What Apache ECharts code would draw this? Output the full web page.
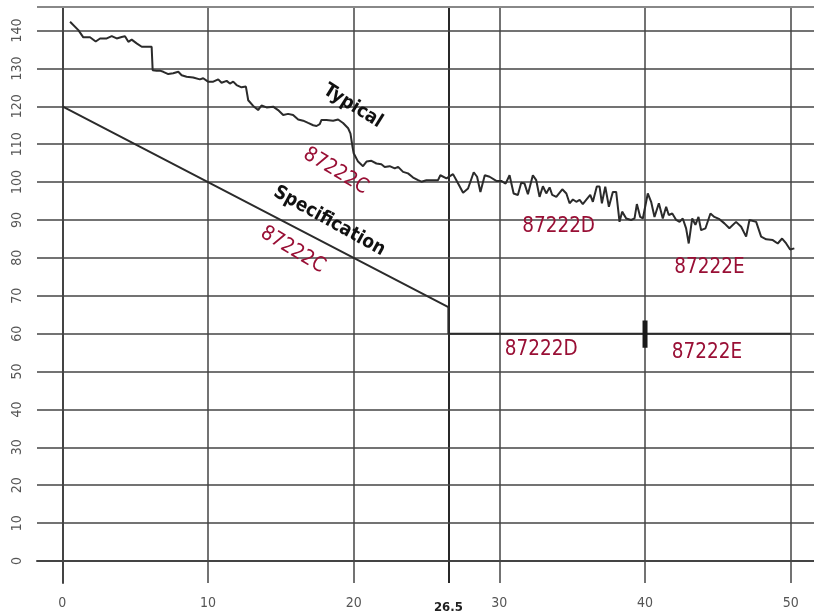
<!DOCTYPE html>
<html>
<head>
<meta charset="utf-8">
<script src="https://cdn.jsdelivr.net/npm/echarts@6/dist/echarts.min.js"></script>
<style>
html,body{margin:0;padding:0;background:#fff;}
#c{width:814px;height:614px;}
</style>
</head>
<body>
<div id="c"></div>
<script>
// Typical curve (x, value)
var typicalX = [0.53,1.1,1.44,1.9,2.29,2.59,3.05,3.39,3.73,4.07,4.3,4.53,4.76,5.1,5.45,6.13,6.2,6.47,6.7,6.93,7.27,7.61,7.96,8.19,8.53,8.98,9.44,9.67,10.0,10.36,10.7,10.93,11.28,11.5,11.73,11.96,12.3,12.6,12.76,13.1,13.44,13.67,14.02,14.47,14.81,15.16,15.5,15.84,16.19,16.53,16.87,17.22,17.45,17.67,17.79,18.13,18.59,18.93,19.27,19.62,19.78,19.92,20.0,20.3,20.64,20.88,21.22,21.56,21.9,22.13,22.47,22.82,23.05,23.39,23.73,24.08,24.42,24.65,24.99,25.45,25.79,25.95,26.37,26.82,27.05,27.51,27.85,28.24,28.47,28.7,29.0,29.33,29.79,30.13,30.43,30.7,30.98,31.27,31.5,31.73,31.96,32.3,32.53,32.76,32.99,33.22,33.45,33.63,33.91,34.32,34.6,34.82,35.05,35.28,35.51,35.73,35.96,36.24,36.42,36.69,36.88,37.04,37.27,37.52,37.79,38.02,38.25,38.43,38.71,39.05,39.28,39.44,39.67,39.85,40.19,40.42,40.65,40.95,41.22,41.45,41.63,41.87,42.14,42.37,42.59,42.82,43.0,43.24,43.46,43.67,43.85,44.15,44.49,44.76,45.11,45.45,45.79,46.25,46.6,46.94,47.17,47.63,47.97,48.32,48.77,49.11,49.41,49.69,49.96,50.25];
var typicalY = [142.3,140.1,138.2,138.2,137.1,137.9,137.9,138.5,137.9,138.3,138.5,137.0,137.6,136.6,135.7,135.7,129.5,129.4,129.4,129.1,128.5,128.7,129.1,128.2,127.8,127.6,127.1,127.4,126.5,126.5,127.1,126.2,126.7,126.0,126.5,125.6,125.0,125.2,121.6,120.1,119.0,120.2,119.7,119.9,119.0,117.7,118.0,117.7,116.5,116.2,115.6,115.0,114.8,115.3,116.4,116.4,116.2,116.5,115.6,114.2,112.8,109.3,107.6,105.4,104.2,105.4,105.6,104.9,104.7,104.0,104.2,103.6,104.0,102.7,102.3,101.2,100.5,100.1,100.5,100.5,100.5,101.8,101.0,102.1,100.5,97.2,98.3,102.6,101.4,97.4,101.8,101.4,100.3,100.3,99.6,101.8,97.0,96.6,99.8,99.6,96.8,101.8,100.5,96.1,98.9,97.0,98.6,96.6,96.1,98.1,97.0,94.4,95.4,94.8,95.3,94.2,95.3,96.6,94.8,98.8,98.8,94.4,98.8,93.5,97.4,97.4,89.5,92.2,90.4,90.0,90.4,94.2,90.8,90.4,97.0,94.8,90.8,94.4,90.4,93.5,91.3,91.7,90.0,89.5,90.4,87.8,83.8,90.4,88.7,90.8,87.3,87.8,91.7,90.8,90.2,89.1,87.8,89.5,88.2,85.6,90.0,89.5,85.6,84.9,84.7,83.8,85.1,83.8,82.2,82.5];

// Specification limit
var specX = [0, 26.5, 26.5, 50];
var specY = [120, 67, 60, 60];

// Divider mark at x = 40
var markX = [40, 40];
var markY = [56.3, 63.5];

// Grid lines / tick values
var xGridValues = [0, 10, 20, 26.5, 30, 40, 50];
var xTickLabels = [0, 10, 20, 26.5, 30, 40, 50];
var yTickLabels = [0, 10, 20, 30, 40, 50, 60, 70, 80, 90, 100, 110, 120, 130, 140];

// Annotations
var annoText = ['Typical', 'Specification', '87222C', '87222C', '87222D', '87222E', '87222D', '87222E'];
var annoX = [19.94, 18.33, 18.77, 15.82, 34.07, 44.42, 32.87, 44.25];
var annoY = [120.05, 89.7, 102.9, 82.1, 88.3, 77.3, 55.9, 55.0];
var annoKind = ['bold', 'bold', 'red', 'red', 'red', 'red', 'red', 'red'];
var annoRot = [-32, -29, -31, -31, 0, 0, 0, 0];

var X_MIN = -1.74, X_MAX = 51.6, Y_MIN = -5.8, Y_MAX = 146.2;
var FONT = '"DejaVu Sans", "Noto Sans", sans-serif';
var STRETCH = 'condensed';

function zip(xs, ys) { return xs.map(function (x, i) { return [x, ys[i]]; }); }

var gridStyle = { color: '#444', width: 1.5, type: 'solid' };
var vLines = xGridValues.map(function (v) {
  return { xAxis: v, lineStyle: v === 26.5 ? { color: '#111', width: 1.8, type: 'solid' } : gridStyle };
});
var hLines = yTickLabels.map(function (v) { return { yAxis: v, lineStyle: gridStyle }; });
hLines.push({ yAxis: Y_MAX, lineStyle: { color: '#888', width: 2, type: 'solid' } });

var annoData = annoText.map(function (t, i) {
  var red = annoKind[i] === 'red';
  return {
    value: [annoX[i], annoY[i]],
    label: {
      show: true, position: 'inside', formatter: t, rotate: annoRot[i],
      color: red ? '#990f35' : '#111',
      opacity: 1,
      fontFamily: FONT,
      fontStyle: STRETCH,
      fontSize: red ? 20.5 : 19,
      fontWeight: red ? 'normal' : 'bold'
    }
  };
});

var chart = echarts.init(document.getElementById('c'), null, { renderer: 'canvas' });
chart.setOption({
  animation: false,
  backgroundColor: '#fff',
  grid: { left: 37, right: 0, top: 7, bottom: 31, containLabel: false },
  xAxis: {
    type: 'value', min: X_MIN, max: X_MAX,
    axisLine: { show: true, lineStyle: { color: '#444', width: 2 } },
    axisTick: { show: false },
    splitLine: { show: false },
    axisLabel: {
      customValues: xTickLabels,
      margin: 13,
      color: '#555',
      fontFamily: FONT,
      fontStyle: STRETCH,
      fontSize: 14,
      formatter: function (v) { return v === 26.5 ? '{b|26.5}' : String(v); },
      rich: { b: { fontWeight: 'bold', color: '#222', fontSize: 13, padding: [5, 0, 0, 0],
        fontStyle: STRETCH, fontFamily: FONT } }
    }
  },
  yAxis: {
    type: 'value', min: Y_MIN, max: Y_MAX,
    axisLine: { show: true, lineStyle: { color: '#444', width: 2 } },
    axisTick: { show: false },
    splitLine: { show: false },
    axisLabel: {
      customValues: yTickLabels,
      rotate: 90,
      margin: 13,
      color: '#555',
      fontFamily: FONT,
      fontStyle: STRETCH,
      fontSize: 14
    }
  },
  series: [
    {
      type: 'line', silent: true, data: [], symbol: 'none',
      markLine: { silent: true, symbol: 'none', label: { show: false }, animation: false,
        data: vLines.concat(hLines) }
    },
    {
      type: 'line', name: 'Typical', data: zip(typicalX, typicalY), symbol: 'none',
      lineStyle: { color: '#2b2b2b', width: 2 }, z: 5
    },
    {
      type: 'line', name: 'Specification', data: zip(specX, specY), symbol: 'none',
      lineStyle: { color: '#2b2b2b', width: 2 }, z: 5
    },
    {
      type: 'line', name: 'Mark', data: zip(markX, markY), symbol: 'none',
      lineStyle: { color: '#1a1a1a', width: 5, cap: 'butt' }, z: 6
    },
    {
      type: 'scatter', data: annoData, symbol: 'circle', symbolSize: 1,
      itemStyle: { color: 'rgba(0,0,0,0)', opacity: 1 }, silent: true, z: 10
    }
  ]
});
</script>
</body>
</html>
